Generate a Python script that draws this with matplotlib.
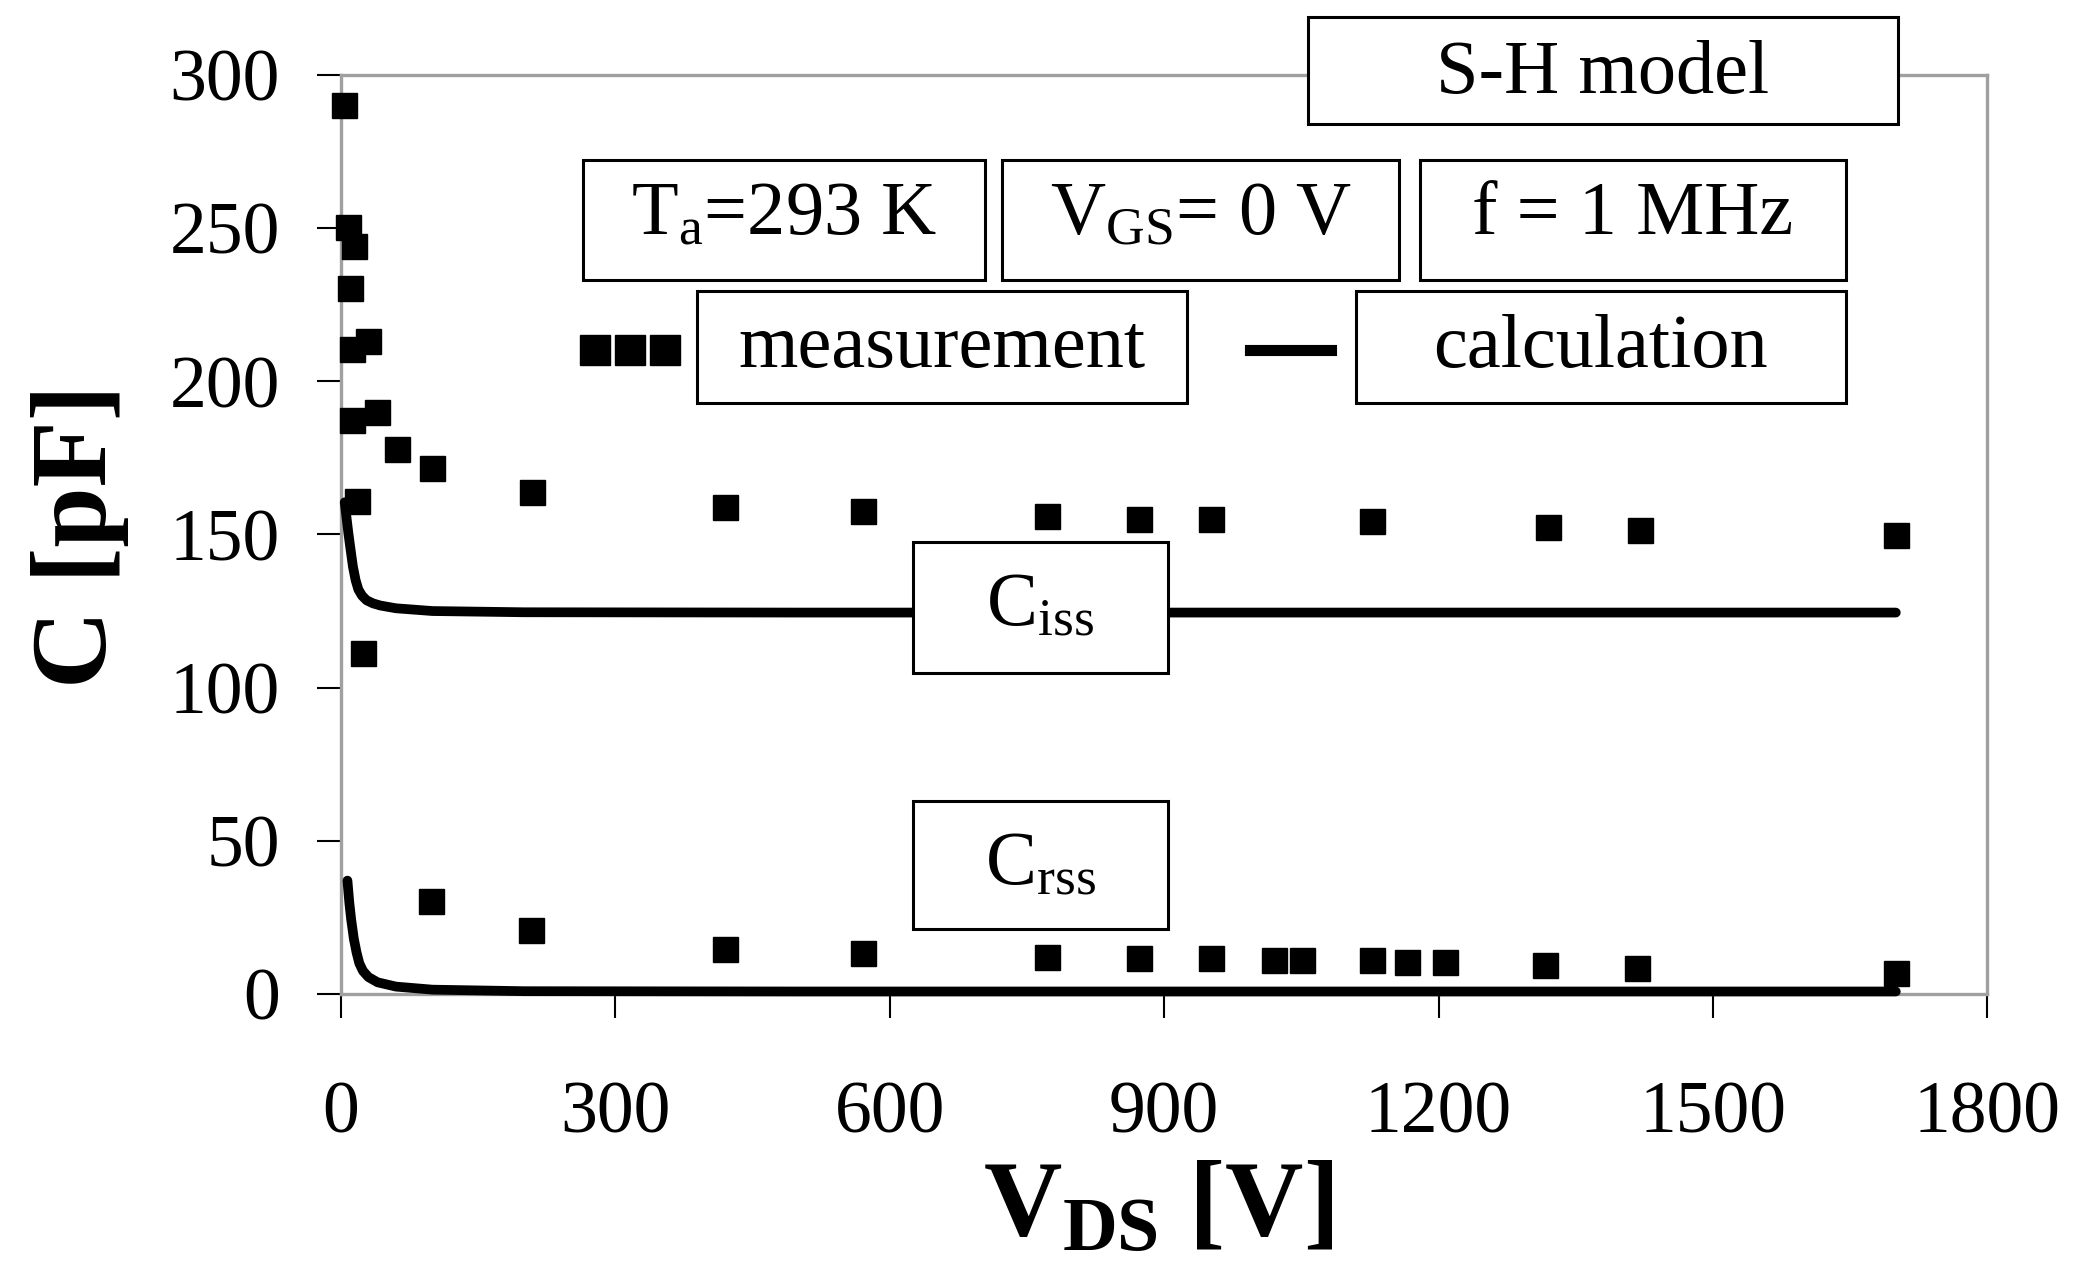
import matplotlib
matplotlib.use('Agg')
import matplotlib.pyplot as plt
from matplotlib.patches import Rectangle
from matplotlib.lines import Line2D

# Measured input capacitance C_iss (squares)
ciss_meas_v = [3, 8, 10, 12, 12, 14, 17, 24, 29, 39, 61, 99, 209, 420, 571, 772, 872, 951, 1127, 1320, 1420, 1700]
ciss_meas_c = [290.2, 250.5, 230.6, 210.7, 187.4, 244.2, 161.0, 111.2, 213.0, 190.1, 177.8, 171.7, 163.9,
               159.0, 157.6, 155.9, 155.0, 155.0, 154.5, 152.3, 151.5, 149.8]

# Measured reverse transfer capacitance C_rss (squares)
crss_meas_v = [98, 208, 420, 571, 772, 872, 951, 1020, 1051, 1127, 1165, 1207, 1316, 1417, 1700]
crss_meas_c = [30.5, 20.9, 14.7, 13.4, 12.1, 11.7, 11.7, 11.2, 11.2, 11.0, 10.3, 10.3, 9.4, 8.6, 6.7]

# S-H model calculation (solid lines)
ciss_calc_v = [4, 6, 8, 10, 13, 16, 19, 23, 28, 35, 43, 60, 100, 200, 500, 1000, 1700]
ciss_calc_c = [160.5, 155.5, 150.5, 146.0, 139.5, 135.0, 132.0, 130.0, 128.5, 127.5, 126.8, 125.9,
               125.0, 124.6, 124.5, 124.5, 124.5]
crss_calc_v = [7, 9, 11, 14, 17, 20, 24, 30, 40, 60, 100, 200, 500, 1000, 1700]
crss_calc_c = [37.0, 30.0, 24.5, 18.0, 13.5, 10.0, 7.5, 5.5, 3.8, 2.4, 1.4, 0.9, 0.8, 0.8, 0.8]

x_ticks = [0, 300, 600, 900, 1200, 1500, 1800]
y_ticks = [0, 50, 100, 150, 200, 250, 300]

# Text boxes: label, (x0, x1, y0, y1) in figure fraction, text baseline
boxes = [
    ('S-H model', (0.6282, 0.9115, 0.9036, 0.9865), 0.9275),
    (r'T$_\mathrm{a}$=293 K', (0.2801, 0.4731, 0.7824, 0.8756), 0.8187),
    (r'V$_\mathrm{GS}$= 0 V', (0.4814, 0.6718, 0.7824, 0.8756), 0.8187),
    ('f = 1 MHz', (0.6821, 0.8865, 0.7824, 0.8756), 0.8187),
    ('measurement', (0.3346, 0.5699, 0.6870, 0.7741), 0.7150),
    ('calculation', (0.6513, 0.8865, 0.6870, 0.7741), 0.7150),
    (r'C$_\mathrm{iss}$', (0.4385, 0.5609, 0.4777, 0.5793), 0.5150),
    (r'C$_\mathrm{rss}$', (0.4385, 0.5609, 0.2788, 0.3782), 0.3140),
]

plt.rcParams['font.family'] = ['Liberation Serif', 'DejaVu Serif']
plt.rcParams['mathtext.fontset'] = 'custom'
plt.rcParams['mathtext.rm'] = 'Liberation Serif'
plt.rcParams['mathtext.it'] = 'Liberation Serif:italic'
plt.rcParams['mathtext.bf'] = 'Liberation Serif:bold'

fig = plt.figure(figsize=(20.82, 12.88), dpi=100)
ax = fig.add_axes([0.1638, 0.2283, 0.9545 - 0.1638, 0.9418 - 0.2283])

# calculated curves
ax.plot(ciss_calc_v, ciss_calc_c, color='black', lw=7, solid_capstyle='round', zorder=3, clip_on=False)
ax.plot(crss_calc_v, crss_calc_c, color='black', lw=7, solid_capstyle='round', zorder=3, clip_on=False)

# measured points
ax.plot(ciss_meas_v, ciss_meas_c, 's', color='black', ms=18, zorder=4, clip_on=False)
ax.plot(crss_meas_v, crss_meas_c, 's', color='black', ms=18, zorder=4, clip_on=False)

ax.set_xlim(0, 1800)
ax.set_ylim(0, 300)
ax.set_xticks(x_ticks)
ax.set_yticks(y_ticks)

for spine in ax.spines.values():
    spine.set_color('#a0a0a0')
    spine.set_linewidth(2.4)

ax.tick_params(direction='out', length=17, width=1.5, color='black', labelsize=53)
ax.tick_params(axis='x', pad=46)
ax.tick_params(axis='y', pad=27)

# axis labels
fig.text(0.556, 0.0404, r'$\mathbf{V_{DS}}$ [V]', fontsize=78, fontweight='bold',
         ha='center', va='baseline')
fig.text(0.0509, 0.5839, 'C [pF]', fontsize=78, fontweight='bold', rotation=90,
         rotation_mode='anchor', ha='center', va='baseline')

# boxed annotations
for label, (x0, x1, y0, y1), base in boxes:
    fig.add_artist(Rectangle((x0, y0), x1 - x0, y1 - y0, transform=fig.transFigure,
                             facecolor='white', edgecolor='black', lw=2.2, zorder=5))
    fig.text((x0 + x1) / 2, base, label, fontsize=55, ha='center', va='baseline', zorder=6)

# legend keys
fig.add_artist(Line2D([0.2859, 0.3026, 0.3192], [0.7285, 0.7285, 0.7285], transform=fig.transFigure,
                      marker='s', ls='none', ms=21, color='black'))
fig.add_artist(Line2D([0.6006, 0.6391], [0.7285, 0.7285], transform=fig.transFigure,
                      color='black', lw=8))

fig.savefig('out.png', dpi=100)
